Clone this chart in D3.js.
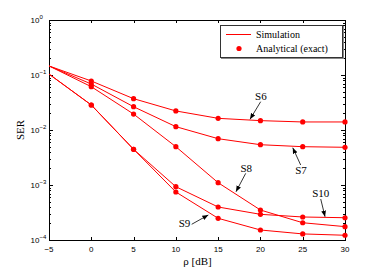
<!DOCTYPE html>
<meta charset="utf-8">
<head>
    <title>SER vs rho</title>
    <script src="https://d3js.org/d3.v7.min.js"></script>
    <style>
        body { margin: 0; background: #ffffff; }
        .serif { font-family: "Liberation Serif", "DejaVu Serif", serif; }
        .sans { font-family: "Liberation Sans", Arial, sans-serif; }
    </style>
</head>
<body>
<div id="my_dataviz"></div>
<script>

// data
var snr = [-5, 0, 5, 10, 15, 20, 25, 30];
var s6  = [0.146, 0.0778, 0.0371, 0.0222, 0.0163, 0.0148, 0.0140, 0.0140];
var s7  = [0.146, 0.0686, 0.0265, 0.0115, 0.00695, 0.0054, 0.00497, 0.00485];
var s8  = [0.146, 0.0613, 0.0195, 0.00497, 0.0011, 0.000351, 0.000206, 0.000175];
var s9  = [0.104, 0.0285, 0.00446, 0.000746, 0.000248, 0.000152, 0.000129, 0.000122];
var s10 = [0.104, 0.0285, 0.00446, 0.000931, 0.000398, 0.000293, 0.000262, 0.000254];
var seriesNames = ["S6", "S7", "S8", "S9", "S10"];
var seriesValues = [s6, s7, s8, s9, s10];

var xTicks = [-5, 0, 5, 10, 15, 20, 25, 30];
var yTickExp = [0, -1, -2, -3, -4];

// label position and arrow (from -> to) in data units
var labels = [
    {name: "S6",  lx: 20.06, ly: 0.042,   x1: 20.03, y1: 0.0327,  x2: 18.77, y2: 0.01566},
    {name: "S7",  lx: 24.79, ly: 0.00187, x1: 24.76, y1: 0.00231, x2: 23.82, y2: 0.00477},
    {name: "S8",  lx: 18.33, ly: 0.00206, x1: 18.26, y1: 0.00163, x2: 17.11, y2: 0.000755},
    {name: "S9",  lx: 11.02, ly: 0.000201, x1: 11.87, y1: 0.000193, x2: 13.84, y2: 0.000285},
    {name: "S10", lx: 27.14, ly: 0.000724, x1: 27.13, y1: 0.000556, x2: 27.64, y2: 0.000265}
];

var margin = {top: 20, right: 36, bottom: 31, left: 49},
    width = 381 - margin.left - margin.right,
    height = 271 - margin.top - margin.bottom;

var svg = d3.select("#my_dataviz")
    .append("svg")
    .attr("width", 381)
    .attr("height", 271)
    .append("g")
    .attr("transform", "translate(" + margin.left + "," + margin.top + ")");

var x = d3.scaleLinear().domain([-5, 30]).range([0, width]);
var y = d3.scaleLog().domain([1e-4, 1]).range([height, 0]);

// minor log ticks
var minor = [];
for (var e = -4; e < 0; e++) {
    for (var m = 2; m < 10; m++) minor.push(m * Math.pow(10, e));
}

// ticks (inward, all four sides)
var tk = svg.append("g").attr("stroke", "#000").attr("stroke-width", 1);
xTicks.forEach(function(v) {
    var px = Math.round(x(v)) + 0.5;
    tk.append("line").attr("x1", px).attr("x2", px).attr("y1", height).attr("y2", height - 3);
    tk.append("line").attr("x1", px).attr("x2", px).attr("y1", 0).attr("y2", 3);
});
yTickExp.forEach(function(e) {
    var py = Math.round(y(Math.pow(10, e))) + 0.5;
    tk.append("line").attr("x1", 0).attr("x2", 4).attr("y1", py).attr("y2", py);
    tk.append("line").attr("x1", width).attr("x2", width - 4).attr("y1", py).attr("y2", py);
});
minor.forEach(function(v) {
    var py = Math.round(y(v)) + 0.5;
    tk.append("line").attr("x1", 0).attr("x2", 2).attr("y1", py).attr("y2", py);
    tk.append("line").attr("x1", width).attr("x2", width - 2).attr("y1", py).attr("y2", py);
});

// frame
svg.append("rect")
    .attr("x", 0.5).attr("y", 0.5)
    .attr("width", width).attr("height", height)
    .attr("fill", "none").attr("stroke", "#000");

// tick labels
svg.append("g").selectAll("text")
    .data(xTicks).enter().append("text")
    .attr("class", "sans")
    .attr("x", function(d) { return x(d); })
    .attr("y", height + 11.5)
    .attr("text-anchor", "middle")
    .style("font-size", "8px")
    .text(function(d) { return d < 0 ? "\u2212" + Math.abs(d) : d; });

var yl = svg.append("g").selectAll("text")
    .data(yTickExp).enter().append("text")
    .attr("class", "sans")
    .attr("x", -18.5)
    .attr("y", function(d) { return y(Math.pow(10, d)) + 3; })
    .style("font-size", "8px");
yl.append("tspan").text("10");
yl.append("tspan")
    .attr("dy", -4)
    .style("font-size", "6px")
    .text(function(d) { return d < 0 ? "\u2212" + Math.abs(d) : d; });

// axis labels
svg.append("text")
    .attr("class", "serif")
    .attr("transform", "translate(-25," + (height / 2) + ") rotate(-90)")
    .attr("text-anchor", "middle")
    .style("font-size", "11px")
    .text("SER");
svg.append("text")
    .attr("class", "serif")
    .attr("x", 148.5)
    .attr("y", height + 24.5)
    .attr("text-anchor", "middle")
    .style("font-size", "11px")
    .text("\u03c1 [dB]");

// lines + analytical dots
var line = d3.line()
    .x(function(d) { return x(d[0]); })
    .y(function(d) { return y(d[1]); });

seriesValues.forEach(function(vals) {
    var pts = snr.map(function(s, i) { return [s, vals[i]]; });
    svg.append("path")
        .datum(pts)
        .attr("fill", "none")
        .attr("stroke", "#ff0000")
        .attr("stroke-width", 1)
        .attr("d", line);
    svg.append("g").selectAll("circle")
        .data(pts.filter(function(p) { return p[0] >= 0; }))
        .enter().append("circle")
        .attr("cx", function(d) { return x(d[0]); })
        .attr("cy", function(d) { return y(d[1]); })
        .attr("r", 2.6)
        .attr("fill", "#ff0000");
});

// arrows
svg.append("defs").append("marker")
    .attr("id", "arrow")
    .attr("viewBox", "0 0 10 10")
    .attr("refX", 10).attr("refY", 5)
    .attr("markerWidth", 6).attr("markerHeight", 6)
    .attr("markerUnits", "userSpaceOnUse")
    .attr("orient", "auto")
    .append("path")
    .attr("d", "M 0 1 L 10 5 L 0 9 z")
    .attr("fill", "#000");

labels.forEach(function(l) {
    svg.append("line")
        .attr("x1", x(l.x1)).attr("y1", y(l.y1))
        .attr("x2", x(l.x2)).attr("y2", y(l.y2))
        .attr("stroke", "#000").attr("stroke-width", 0.8)
        .attr("marker-end", "url(#arrow)");
    svg.append("text")
        .attr("class", "serif")
        .attr("x", x(l.lx)).attr("y", y(l.ly))
        .attr("dy", "0.35em")
        .attr("text-anchor", "middle")
        .style("font-size", "11px")
        .text(l.name);
});

// legend
var lg = svg.append("g").attr("transform", "translate(171,5)");
lg.append("rect")
    .attr("x", 1).attr("y", 1).attr("width", 123).attr("height", 33)
    .attr("fill", "#888");
lg.append("rect")
    .attr("x", 0.5).attr("y", 0.5).attr("width", 122).attr("height", 32)
    .attr("fill", "#fff").attr("stroke", "#333");
lg.append("line")
    .attr("x1", 6).attr("x2", 31).attr("y1", 9.5).attr("y2", 9.5)
    .attr("stroke", "#ff0000").attr("stroke-width", 1);
lg.append("circle").attr("cx", 19).attr("cy", 23.5).attr("r", 2.6).attr("fill", "#ff0000");
lg.append("text").attr("class", "serif").attr("x", 36).attr("y", 13)
    .style("font-size", "10px").text("Simulation");
lg.append("text").attr("class", "serif").attr("x", 36).attr("y", 27)
    .style("font-size", "10px").text("Analytical (exact)");

</script>
</body>
</html>
